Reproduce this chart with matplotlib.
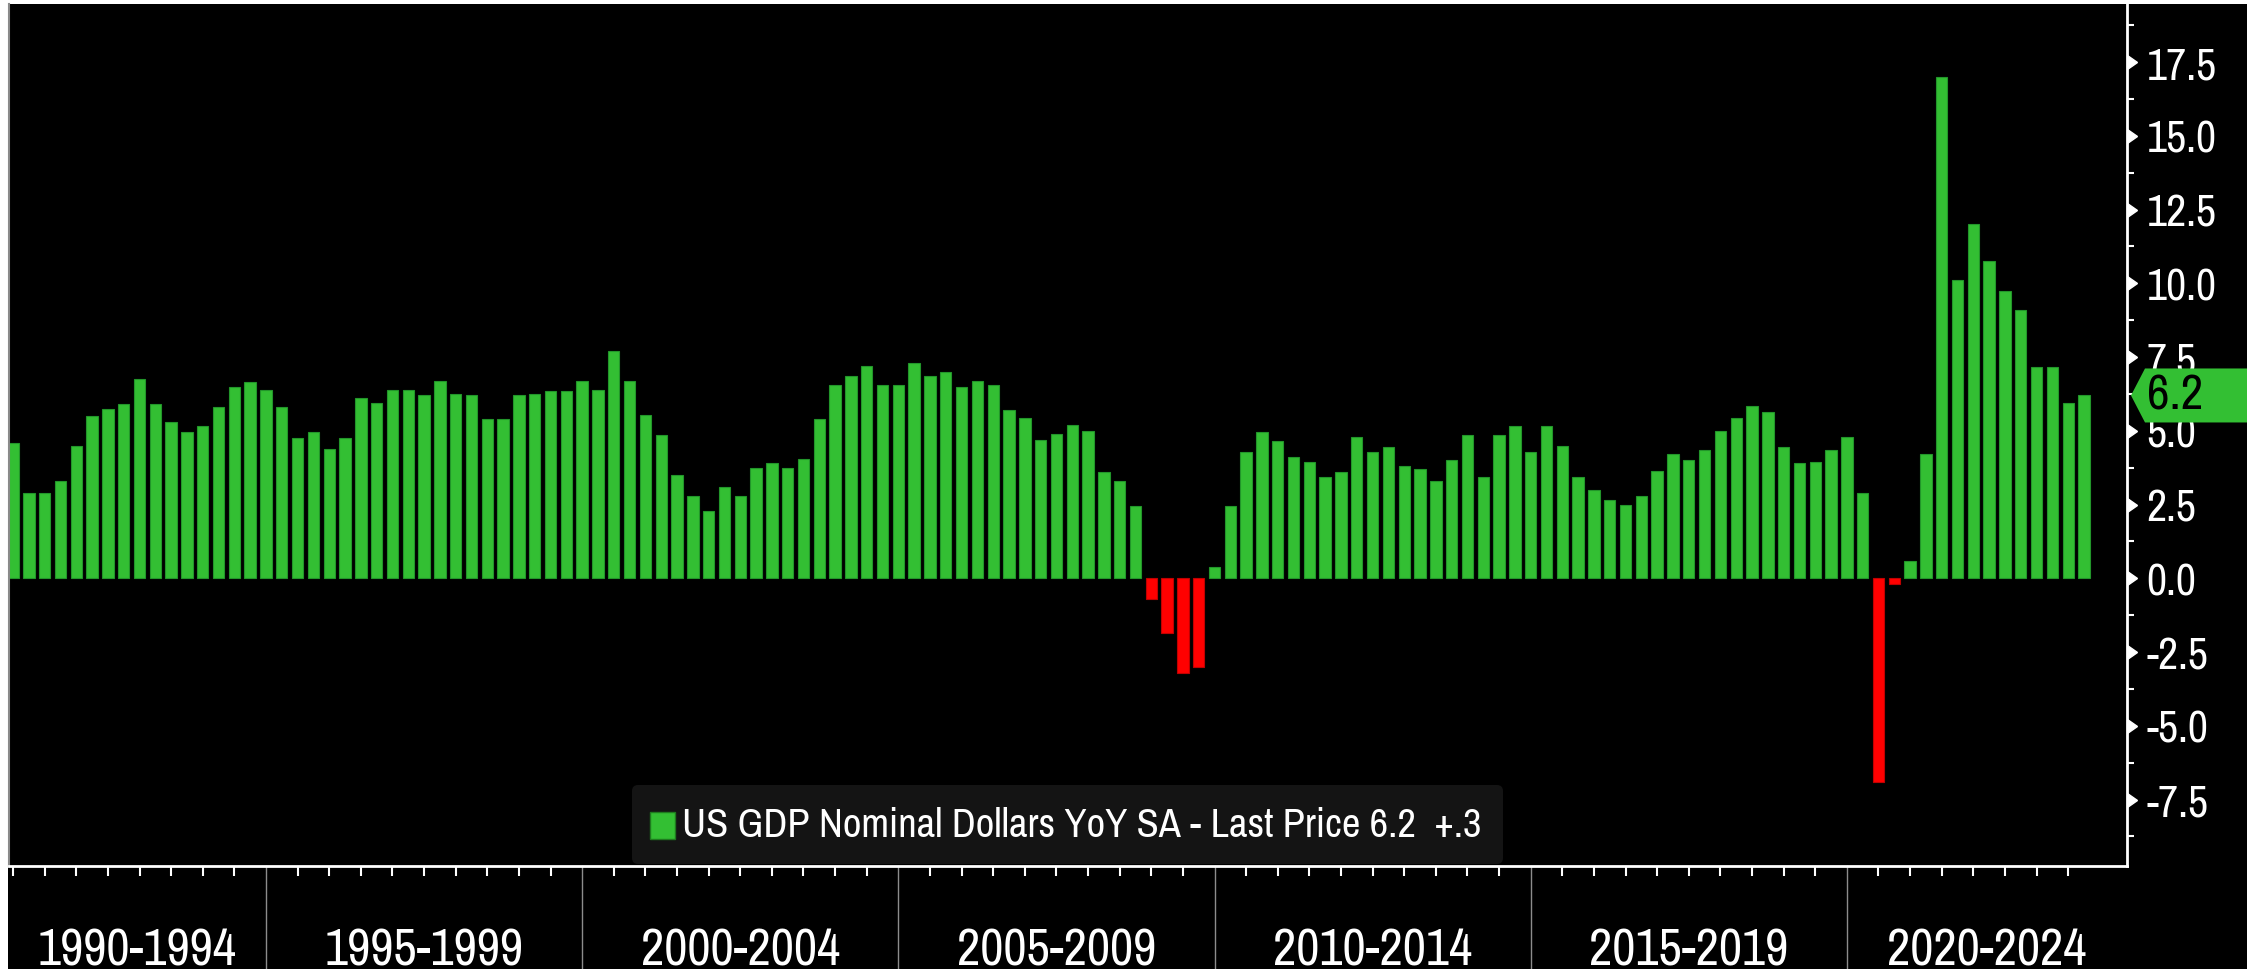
import numpy as np
import pandas as pd
import matplotlib
matplotlib.use('Agg')
import matplotlib.pyplot as plt
from matplotlib import font_manager as fm
from matplotlib import transforms as mtransforms
from matplotlib.patches import Rectangle, FancyBboxPatch, Polygon

# US nominal GDP, YoY %, quarterly from 1990Q4 to 2023Q3
first_quarter = '1990Q4'
gdp_yoy = [
    4.6,
    2.9, 2.9, 3.3, 4.5,
    5.5, 5.75, 5.9, 6.75,
    5.9, 5.3, 4.95, 5.15,
    5.8, 6.5, 6.65, 6.4,
    5.8, 4.75, 4.95, 4.4,
    4.75, 6.1, 5.95, 6.4,
    6.4, 6.2, 6.7, 6.25,
    6.2, 5.4, 5.4, 6.2,
    6.25, 6.35, 6.35, 6.7,
    6.4, 7.7, 6.7, 5.55,
    4.85, 3.5, 2.8, 2.3,
    3.1, 2.8, 3.75, 3.9,
    3.75, 4.05, 5.4, 6.55,
    6.85, 7.2, 6.55, 6.55,
    7.3, 6.85, 7.0, 6.5,
    6.7, 6.55, 5.7, 5.45,
    4.7, 4.9, 5.2, 5.0,
    3.6, 3.3, 2.45, -0.7,
    -1.85, -3.2, -3.0, 0.4,
    2.45, 4.3, 4.95, 4.65,
    4.1, 3.95, 3.45, 3.6,
    4.8, 4.3, 4.45, 3.8,
    3.7, 3.3, 4.0, 4.85,
    3.45, 4.85, 5.15, 4.3,
    5.15, 4.5, 3.45, 3.0,
    2.65, 2.5, 2.8, 3.65,
    4.2, 4.0, 4.35, 5.0,
    5.45, 5.85, 5.65, 4.45,
    3.9, 3.95, 4.35, 4.8,
    2.9, -6.9, -0.2, 0.6,
    4.2, 17.0, 10.1, 12.0,
    10.75, 9.75, 9.1, 7.15,
    7.15, 5.95, 6.2,
]

group_starts = [1990, 1995, 2000, 2005, 2010, 2015, 2020]
group_labels = ['1990-1994', '1995-1999', '2000-2004', '2005-2009',
                '2010-2014', '2015-2019', '2020-2024']
yticks = [-7.5, -5.0, -2.5, 0.0, 2.5, 5.0, 7.5, 10.0, 12.5, 15.0, 17.5]
legend_text = 'US GDP Nominal Dollars YoY SA - Last Price 6.2  +.3'
last_value = gdp_yoy[-1]

GREEN = '#33bf33'
RED = '#ff0000'

# look for a narrow font like the terminal one
narrow = None
for f in fm.fontManager.ttflist:
    if 'Narrow' in f.name or 'Condensed' in f.name:
        if f.weight in ('normal', 400, 'regular', 'book'):
            narrow = f.name
            break
if narrow is None:
    for f in fm.fontManager.ttflist:
        if f.stretch in ('condensed', 'semi-condensed') and f.weight in ('normal', 400):
            narrow = f.name
            plt.rcParams['font.stretch'] = f.stretch
            break
plt.rcParams['font.family'] = [narrow or 'Liberation Sans', 'DejaVu Sans']

quarters = pd.period_range(first_quarter, periods=len(gdp_yoy), freq='Q')
x = np.array([p.year + p.quarter / 4 for p in quarters])

W, H = 2255, 970
fig = plt.figure(figsize=(W / 100, H / 100), dpi=100, facecolor='white')
renderer = fig.canvas.get_renderer()


def fit_size(s, target_px, base=30):
    # font size that gives the text the width seen in the reference
    t = fig.text(0, 0, s, fontsize=base)
    w = t.get_window_extent(renderer=renderer).width
    t.remove()
    return base * target_px / w


xlab_size = fit_size('1990-1994', 200)
ylab_size = fit_size('17.5', 70)
leg_size = fit_size(legend_text, 798)
tag_size = fit_size(f'{last_value:.1f}', 56)

ident = mtransforms.IdentityTransform()
fig.add_artist(Rectangle((8, 0), 2247 - 8, H - 5, transform=ident,
                         facecolor='black', edgecolor='none', zorder=-10))

ax = fig.add_axes([9 / W, 1 - 867 / H, (2127 - 9) / W, (867 - 5) / H])
ax.set_facecolor('black')

colors = [GREEN if v >= 0 else RED for v in gdp_yoy]
edges = ['#22962a' if v >= 0 else '#c00000' for v in gdp_yoy]
ax.bar(x, gdp_yoy, width=0.18, color=colors, edgecolor=edges, linewidth=0.8)

ax.set_xlim(1990.936, 2024.43)
ax.set_ylim(-9.75, 19.47)

ax.spines['top'].set_visible(False)
ax.spines['left'].set_color('#8a8a8a')
ax.spines['left'].set_linewidth(1.5)
ax.spines['bottom'].set_color('white')
ax.spines['bottom'].set_linewidth(2)
ax.spines['right'].set_color('white')
ax.spines['right'].set_linewidth(2)

# x axis: half-year ticks, 5-year separators and group labels
xt = [yr + h for yr in range(1991, 2024) for h in (0, 0.5) if not (h == 0 and yr % 5 == 0)]
ax.set_xticks(xt)
ax.set_xticklabels([])
ax.tick_params(axis='x', direction='out', length=7, width=1.5, colors='white')

bx = mtransforms.blended_transform_factory(ax.transData, ax.transAxes)
x0, x1 = ax.get_xlim()
for start, label in zip(group_starts, group_labels):
    if start > x0:
        ax.plot([start, start], [0, -0.13], transform=bx, color='#8c8c8c',
                lw=1, clip_on=False)
    c = (max(start, x0) + min(start + 5, x1)) / 2
    ax.text(c, -0.097, label, transform=bx, ha='center', va='center',
            fontsize=xlab_size, color='white')

# y axis on the right with triangle markers
ax.yaxis.tick_right()
ax.set_yticks(yticks)
ax.set_yticklabels([f'{v:.1f}' for v in yticks])
ax.set_yticks([v + 1.25 for v in yticks] + [yticks[0] - 1.25], minor=True)
ax.tick_params(axis='y', which='major', length=0, pad=14, labelsize=ylab_size,
               labelcolor='white')
ax.tick_params(axis='y', which='minor', length=5, width=1.5, color='white',
               direction='out')
by = mtransforms.blended_transform_factory(ax.transAxes, ax.transData)
ax.plot(np.ones(len(yticks)), yticks, linestyle='none', marker=9, markersize=10,
        color='white', transform=by, clip_on=False)

# legend box
fig.add_artist(FancyBboxPatch((632, H - 865), 1503 - 632, 865 - 786,
                              boxstyle='round,pad=0,rounding_size=6',
                              transform=ident, facecolor='#141414',
                              edgecolor='none', zorder=3))
fig.add_artist(Rectangle((650, H - 840), 25, 27, transform=ident,
                         facecolor=GREEN, edgecolor='#1e7a1e', lw=1, zorder=4))
fig.text(682 / W, (H - 826) / H, legend_text, fontsize=leg_size, color='white',
         ha='left', va='center', zorder=4)

# last value tag
yc = ax.transData.transform((0, last_value))[1]
tag = [(2131, yc), (2145, yc + 27), (2247, yc + 27), (2247, yc - 27), (2145, yc - 27)]
fig.add_artist(Polygon(tag, closed=True, transform=ident, facecolor=GREEN,
                       edgecolor='none', zorder=5))
fig.text(2147 / W, yc / H, f'{last_value:.1f}', fontsize=tag_size, color='black',
         ha='left', va='center', zorder=6)

fig.savefig('out.png', dpi=100, facecolor=fig.get_facecolor())
